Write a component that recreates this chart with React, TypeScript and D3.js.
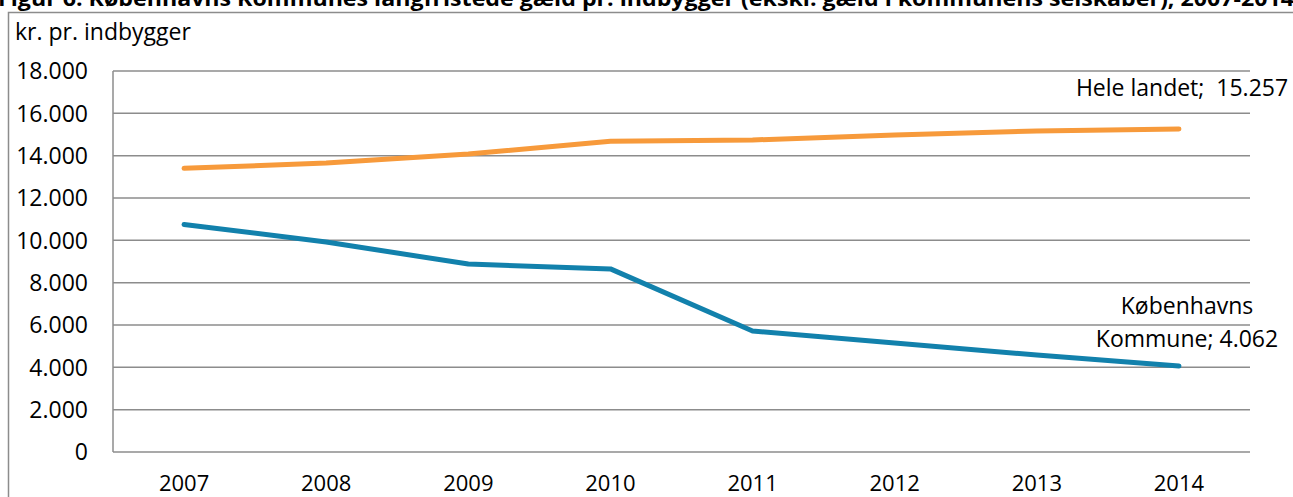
import React, { useEffect, useRef } from 'react';
import * as d3 from 'd3';

const years = ['2007', '2008', '2009', '2010', '2011', '2012', '2013', '2014'];
const heleLandet = [13400, 13650, 14080, 14680, 14740, 14980, 15170, 15257];
const kobenhavn = [10750, 9920, 8880, 8650, 5720, 5150, 4580, 4062];
const yTicks = [0, 2000, 4000, 6000, 8000, 10000, 12000, 14000, 16000, 18000];

const W = 1293;
const H = 497;
const FONT = '"Open Sans", sans-serif';

const App = () => {
  const ref = useRef<SVGSVGElement>(null);

  useEffect(() => {
    const svg = d3.select(ref.current);
    svg.selectAll('*').remove();

    const left = 113, right = 1250, top = 71, bottom = 452;

    const x = d3.scaleBand().domain(years).range([left, right]);
    const y = d3.scaleLinear().domain([0, 18000]).range([bottom, top]);
    const fmt = (v: number) => d3.format(',')(v).replace(/,/g, '.');

    // titel (beskåret foroven)
    svg.append('text')
      .attr('x', -2)
      .attr('y', 6)
      .attr('textLength', 1296)
      .attr('lengthAdjust', 'spacingAndGlyphs')
      .style('font-family', FONT)
      .style('font-weight', 'bold')
      .style('font-size', '21px')
      .text('Figur 6. Københavns Kommunes langfristede gæld pr. indbygger (ekskl. gæld i kommunens selskaber), 2007-2014');

    // ramme
    svg.append('rect')
      .attr('x', 8.5).attr('y', 12.5)
      .attr('width', 1300).attr('height', 500)
      .attr('fill', 'none')
      .attr('stroke', '#8c8c8c')
      .attr('stroke-width', 1.5);

    // gitterlinjer
    svg.append('g')
      .selectAll('line')
      .data(yTicks)
      .enter()
      .append('line')
      .attr('x1', left).attr('x2', right)
      .attr('y1', d => y(d)).attr('y2', d => y(d))
      .attr('stroke', '#8c8c8c')
      .attr('stroke-width', 1.5);

    svg.append('line')
      .attr('x1', left).attr('x2', left)
      .attr('y1', top).attr('y2', bottom)
      .attr('stroke', '#8c8c8c')
      .attr('stroke-width', 1.5);

    // y-akse
    svg.append('g')
      .selectAll('text')
      .data(yTicks)
      .enter()
      .append('text')
      .attr('x', 88)
      .attr('y', d => y(d))
      .attr('dy', '0.36em')
      .attr('text-anchor', 'end')
      .style('font-family', FONT)
      .style('font-size', '23px')
      .text(d => fmt(d));

    svg.append('text')
      .attr('x', 15)
      .attr('y', 40)
      .style('font-family', FONT)
      .style('font-size', '23px')
      .text('kr. pr. indbygger');

    // x-akse
    svg.append('g')
      .selectAll('text')
      .data(years)
      .enter()
      .append('text')
      .attr('x', d => (x(d) as number) + x.bandwidth() / 2)
      .attr('y', 491)
      .attr('text-anchor', 'middle')
      .style('font-family', FONT)
      .style('font-size', '22px')
      .text(d => d);

    const line = d3.line<number>()
      .x((_, i) => (x(years[i]) as number) + x.bandwidth() / 2)
      .y(d => y(d));

    svg.append('path')
      .datum(heleLandet)
      .attr('d', line)
      .attr('fill', 'none')
      .attr('stroke', '#F79A3B')
      .attr('stroke-width', 5)
      .attr('stroke-linecap', 'round')
      .attr('stroke-linejoin', 'round');

    svg.append('path')
      .datum(kobenhavn)
      .attr('d', line)
      .attr('fill', 'none')
      .attr('stroke', '#1281AC')
      .attr('stroke-width', 5)
      .attr('stroke-linecap', 'round')
      .attr('stroke-linejoin', 'round');

    // etiketter
    svg.append('text')
      .attr('x', 1182)
      .attr('y', 96)
      .attr('text-anchor', 'middle')
      .style('font-family', FONT)
      .style('font-size', '23px')
      .text(`Hele landet;\u00a0 ${fmt(heleLandet[7])}`);

    const lab = svg.append('text')
      .attr('text-anchor', 'middle')
      .style('font-family', FONT)
      .style('font-size', '23px');
    lab.append('tspan').attr('x', 1187).attr('y', 314).text('Københavns');
    lab.append('tspan').attr('x', 1187).attr('y', 347).text(`Kommune; ${fmt(kobenhavn[7])}`);
  }, []);

  return (
    <svg
      ref={ref}
      width={W}
      height={H}
      style={{ position: 'absolute', left: 0, top: 0, background: '#fff' }}
    />
  );
};

export default App;
